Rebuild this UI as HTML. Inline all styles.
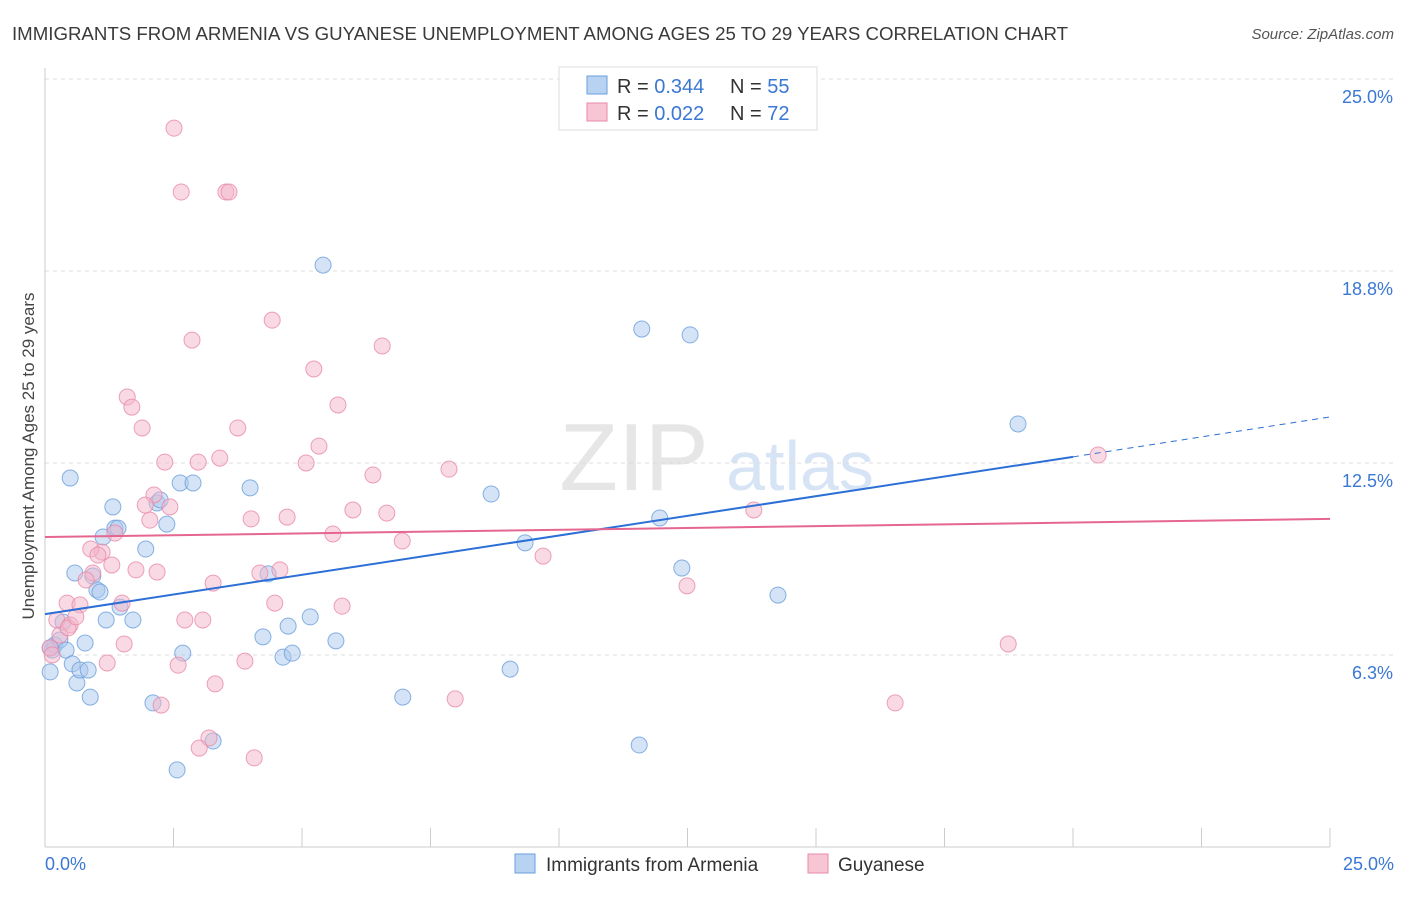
<!DOCTYPE html>
<html><head><meta charset="utf-8"><style>
body{margin:0;background:#fff;font-family:"Liberation Sans",sans-serif;}
svg text{font-family:"Liberation Sans",sans-serif;}
</style></head><body>
<svg id="chart" width="1406" height="892">
<text x="12" y="40" font-size="18" fill="#3a3a3a" textLength="1056" lengthAdjust="spacingAndGlyphs">IMMIGRANTS FROM ARMENIA VS GUYANESE UNEMPLOYMENT AMONG AGES 25 TO 29 YEARS CORRELATION CHART</text>
<text x="1394" y="39" font-size="15" fill="#555" text-anchor="end" font-style="italic">Source: ZipAtlas.com</text>
<text x="634" y="490" font-size="96" fill="#e6e6e6" text-anchor="middle" font-family="Liberation Serif">ZIP</text>
<text x="800" y="490" font-size="70" fill="#d6e4f5" text-anchor="middle">atlas</text>
<g id="grid"></g><g id="axes"></g><g id="marks"></g>
<text transform="translate(34,456) rotate(-90)" font-size="17" fill="#444" text-anchor="middle">Unemployment Among Ages 25 to 29 years</text>
<g>
<rect x="559" y="67" width="258" height="63" fill="#fff" stroke="#ddd"/>
<rect x="587" y="76" width="20" height="18" fill="#b8d3f2" stroke="#6a9fdc"/>
<text x="617" y="93" font-size="20" fill="#333">R = <tspan fill="#3a78d4">0.344</tspan></text>
<text x="730" y="93" font-size="20" fill="#333">N = <tspan fill="#3a78d4">55</tspan></text>
<rect x="587" y="103" width="20" height="18" fill="#f8c5d5" stroke="#e88aa8"/>
<text x="617" y="120" font-size="20" fill="#333">R = <tspan fill="#3a78d4">0.022</tspan></text>
<text x="730" y="120" font-size="20" fill="#333">N = <tspan fill="#3a78d4">72</tspan></text>
</g>
<g>
<rect x="515" y="854" width="20" height="19" fill="#b8d3f2" stroke="#6a9fdc"/>
<text x="546" y="871" font-size="19" fill="#333">Immigrants from Armenia</text>
<rect x="808" y="854" width="20" height="19" fill="#f8c5d5" stroke="#e88aa8"/>
<text x="838" y="871" font-size="19" fill="#333">Guyanese</text>
</g>
</svg>
<script>
const yTicks=[6.25,12.5,18.75,25];
const yTickLabels=["6.3%","12.5%","18.8%","25.0%"];
const xTickLabels=["0.0%","25.0%"];
const blueX=[0.10,0.14,0.19,0.29,0.35,0.41,0.49,0.53,0.58,0.62,0.68,0.78,0.84,0.88,0.93,1.01,1.07,1.13,1.19,1.32,1.36,1.42,1.46,1.71,1.96,2.10,2.18,2.24,2.37,2.57,2.63,2.68,2.88,3.27,3.99,4.24,4.34,4.63,4.73,4.81,5.16,5.41,5.66,6.96,8.68,9.05,9.34,11.56,11.61,11.96,12.39,12.55,14.26,18.93,0.10];
const blueY=[5.70,6.41,6.58,6.74,7.32,6.41,12.01,5.96,8.92,5.34,5.76,6.64,5.76,4.88,8.82,8.37,8.30,10.09,7.39,11.07,10.38,10.38,7.81,7.39,9.70,4.69,11.20,11.30,10.51,2.51,11.85,6.31,11.85,3.45,11.69,6.84,8.89,6.18,7.19,6.31,7.49,18.94,6.71,4.88,11.49,5.79,9.90,3.32,16.86,10.71,9.08,16.67,8.20,13.77,6.48];
const pinkX=[2.51,2.65,3.52,3.58,2.86,4.42,5.23,6.56,5.70,1.60,1.69,1.89,3.75,5.33,2.33,2.98,3.40,5.08,6.38,7.86,2.12,1.95,2.43,2.04,1.36,1.11,0.89,1.03,1.30,1.77,2.18,0.93,0.80,4.18,4.57,3.27,4.01,4.71,5.99,6.65,5.60,6.95,9.69,12.49,13.79,20.49,18.74,16.54,0.43,0.68,0.23,0.49,0.29,0.10,0.14,1.50,4.47,5.78,2.72,3.07,1.54,1.21,2.59,3.89,3.31,2.26,7.98,3.19,3.00,4.07,0.45,0.60];
const pinkY=[23.40,21.32,21.32,21.32,16.50,17.15,15.56,16.31,14.39,14.65,14.32,13.64,13.64,13.05,12.53,12.53,12.66,12.50,12.11,12.30,11.46,11.13,11.07,10.64,10.22,9.60,9.70,9.50,9.18,9.02,8.95,8.92,8.69,8.92,9.02,8.59,10.68,10.74,10.97,10.87,10.19,9.96,9.47,8.50,10.97,12.76,6.61,4.69,7.94,7.88,7.39,7.23,6.90,6.48,6.25,7.94,7.94,7.84,7.39,7.39,6.61,5.99,5.92,6.05,5.31,4.62,4.82,3.55,3.22,2.90,7.13,7.49];
const blueTrend=[7.58,12.70,14.0]; // at x=0, x=20, x=25
const pinkTrend=[10.09,10.68]; // at x=0, x=25
const NS="http://www.w3.org/2000/svg";
const X=v=>45+v/25*1285, Y=v=>847-v/25*768;
function mk(tag,attrs,parent){const e=document.createElementNS(NS,tag);for(const k in attrs)e.setAttribute(k,attrs[k]);parent.appendChild(e);return e;}
const grid=document.getElementById('grid'),axes=document.getElementById('axes'),marks=document.getElementById('marks');
yTicks.forEach((t,i)=>{
 const l=mk('line',{x1:45,x2:1394,y1:Y(t),y2:Y(t),stroke:'#dcdcdc','stroke-dasharray':'4,4'},grid);
 
 
 const tx=mk('text',{x:1393,y:Y(t)+24,'font-size':18,fill:'#3a78d4','text-anchor':'end'},axes);
 tx.textContent=yTickLabels[i];
 
 
});
const ax=mk('line',{x1:45,x2:1330,y1:847,y2:847,stroke:'#ccc'},axes);


const ay=mk('line',{x1:45,x2:45,y1:68,y2:847,stroke:'#ccc'},axes);


for(let i=0;i<=10;i++){
 const t=mk('line',{x1:X(i*2.5),x2:X(i*2.5),y1:828,y2:847,stroke:'#ccc'},axes);
 
 
}
[[0,'start',45],[25,'end',1394]].forEach((d,i)=>{
 const tx=mk('text',{x:d[2],y:870,'font-size':18,fill:'#3a78d4','text-anchor':d[1]},axes);
 tx.textContent=xTickLabels[i];
 
 
});
function dots(xs,ys,fill,stroke,name){xs.forEach((x,i)=>{
 const c=mk('circle',{cx:X(x),cy:Y(ys[i]),r:8,fill:fill,'fill-opacity':0.5,stroke:stroke,'stroke-opacity':0.8,'stroke-width':1},marks);
 
 
});}
dots(blueX,blueY,'#a9c8ee','#6a9fdc','armenia-point');
dots(pinkX,pinkY,'#f4b5c9','#e88aa8','guyanese-point');
const bl=mk('line',{x1:X(0),y1:Y(blueTrend[0]),x2:X(20),y2:Y(blueTrend[1]),stroke:'#2c6fd6','stroke-width':2},marks);


const bd=mk('line',{x1:X(20),y1:Y(blueTrend[1]),x2:X(25),y2:Y(blueTrend[2]),stroke:'#2c6fd6','stroke-width':1,'stroke-dasharray':'6,5'},marks);


const pl=mk('line',{x1:X(0),y1:Y(pinkTrend[0]),x2:X(25),y2:Y(pinkTrend[1]),stroke:'#e5668f','stroke-width':2},marks);


</script>
</body></html>
